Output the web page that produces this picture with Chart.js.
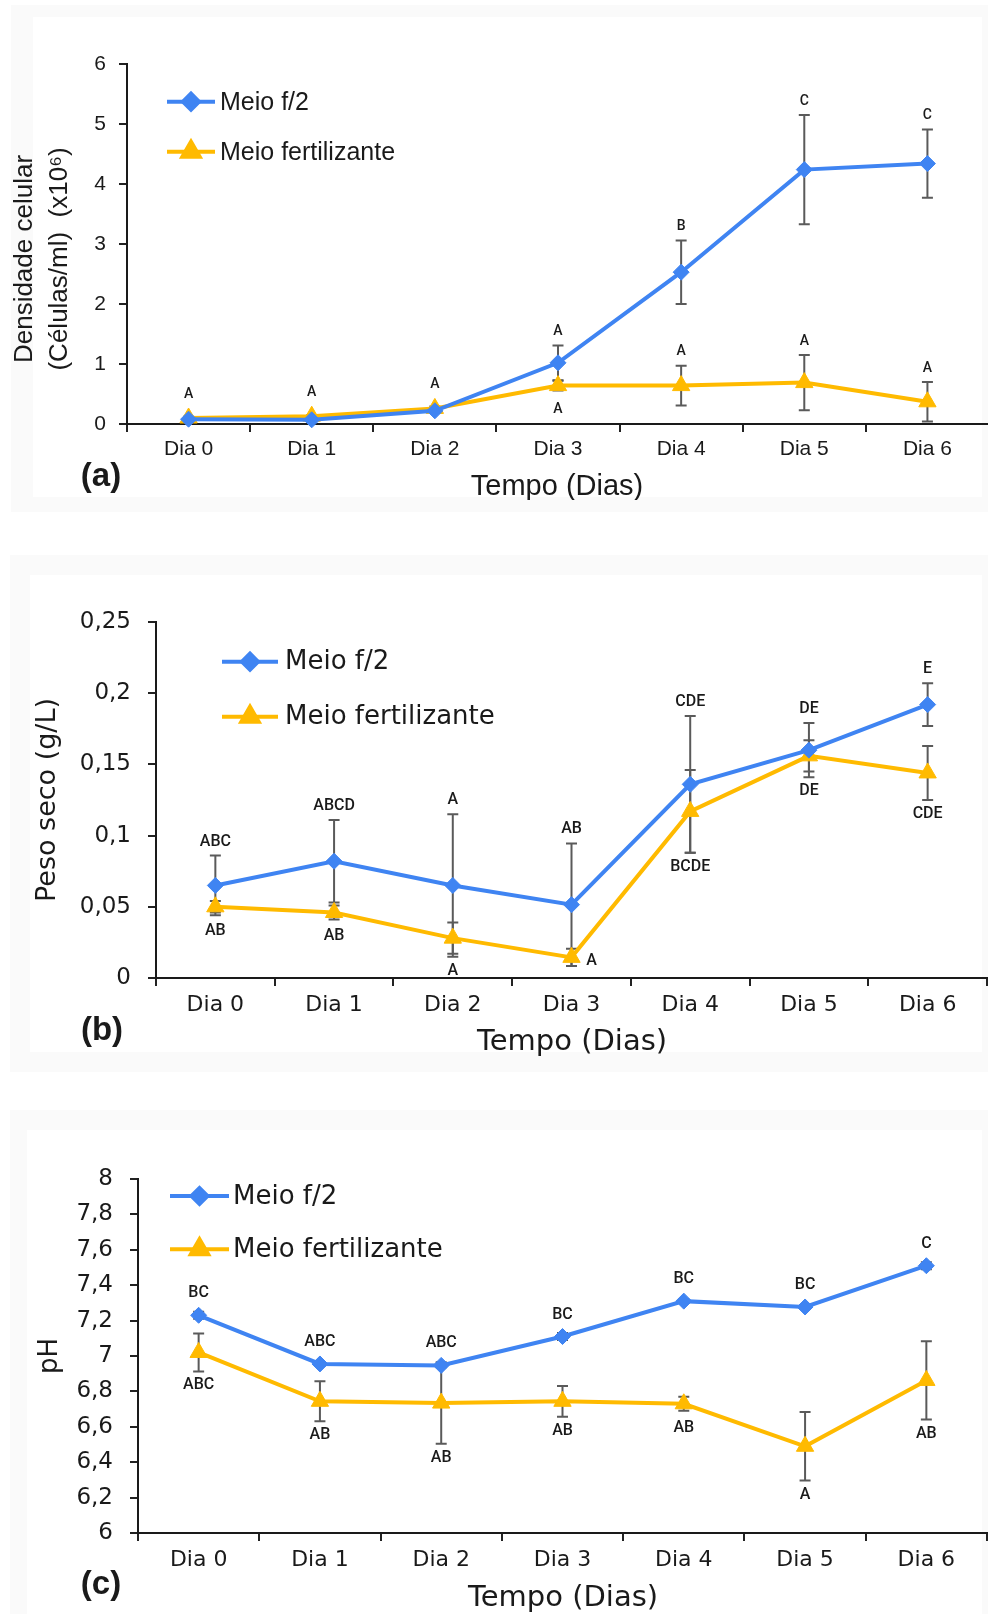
<!DOCTYPE html>
<html><head><meta charset="utf-8">
<script src="https://cdn.jsdelivr.net/npm/chart.js@4.4.1/dist/chart.umd.min.js"></script>
<style>
html,body{margin:0;padding:0;background:#fff;width:988px;height:1614px;overflow:hidden;position:relative}
.frame{position:absolute;background:#fafafa}
.inner{position:absolute;background:#fff}
canvas{position:absolute;left:0}
</style></head><body>
<div class="frame" style="left:11px;top:5px;width:990px;height:507px"></div>
<div class="inner" style="left:33px;top:17px;width:949px;height:480px"></div>
<div class="frame" style="left:10px;top:555px;width:990px;height:517px"></div>
<div class="inner" style="left:30px;top:575px;width:952px;height:477px"></div>
<div class="frame" style="left:10px;top:1110px;width:990px;height:520px"></div>
<div class="inner" style="left:27px;top:1130px;width:955px;height:500px"></div>
<canvas id="chartA" width="1000" height="500" style="top:0"></canvas>
<canvas id="chartB" width="1000" height="500" style="top:560px"></canvas>
<canvas id="chartC" width="1000" height="504" style="top:1110px"></canvas>
<script>
// ---------- shared categories / series names ----------
const days = ['Dia 0','Dia 1','Dia 2','Dia 3','Dia 4','Dia 5','Dia 6'];
const seriesNames = ['Meio f/2','Meio fertilizante'];

// ---------- (a) cell density (x10^6 cells/ml) ----------
const densF2      = [0.08, 0.07, 0.22, 1.02, 2.53, 4.24, 4.34];
const densF2Err   = [0.02, 0.02, 0.03, 0.29, 0.53, 0.91, 0.57];
const densFert    = [0.10, 0.13, 0.26, 0.64, 0.64, 0.69, 0.37];
const densFertErr = [0.02, 0.02, 0.03, 0.08, 0.33, 0.46, 0.33];
const densF2Letters   = ['', '', '', 'A', 'B', 'C', 'C'];
const densFertLetters = ['A','A','A','A','A','A','A'];
const densF2Side   = ['up','up','up','up','up','up','up'];
const densFertSide = ['up','up','up','down','up','up','up'];
const densTickVals   = [0,1,2,3,4,5,6];
const densTickLabels = ['0','1','2','3','4','5','6'];

// ---------- (b) dry weight (g/L) ----------
const dryF2      = [0.065, 0.082, 0.065, 0.0515, 0.136, 0.160, 0.192];
const dryF2Err   = [0.021, 0.029, 0.050, 0.043, 0.048, 0.019, 0.015];
const dryFert    = [0.050, 0.046, 0.028, 0.0145, 0.117, 0.156, 0.144];
const dryFertErr = [0.004, 0.005, 0.011, 0.006, 0.029, 0.011, 0.019];
const dryF2Letters   = ['ABC','ABCD','A','AB','CDE','DE','E'];
const dryFertLetters = ['AB','AB','A','A','BCDE','DE','CDE'];
const dryF2Side   = ['up','up','up','up','up','up','up'];
const dryFertSide = ['down','down','down','right','down','down','down'];
const dryTickVals   = [0,0.05,0.1,0.15,0.2,0.25];
const dryTickLabels = ['0','0,05','0,1','0,15','0,2','0,25'];

// ---------- (c) pH ----------
const phF2      = [7.23, 6.955, 6.947, 7.11, 7.31, 7.277, 7.51];
const phF2Err   = [0.02, 0.01, 0.01, 0.02, 0.01, 0.01, 0.02];
const phFert    = [7.02, 6.744, 6.734, 6.744, 6.73, 6.49, 6.862];
const phFertErr = [0.107, 0.113, 0.23, 0.087, 0.04, 0.194, 0.221];
const phF2Letters   = ['BC','ABC','ABC','BC','BC','BC','C'];
const phFertLetters = ['ABC','AB','AB','AB','AB','A','AB'];
const phF2Side   = ['up','up','up','up','up','up','up'];
const phFertSide = ['down','down','down','down','down','down','down'];
const phTickVals   = [6,6.2,6.4,6.6,6.8,7,7.2,7.4,7.6,7.8,8];
const phTickLabels = ['6','6,2','6,4','6,6','6,8','7','7,2','7,4','7,6','7,8','8'];

// ---------- styling ----------
const BLUE = '#3f84f2', GOLD = '#ffba00', ERR = '#5a5a5a', INK = '#1a1a1a';

const extras = {
  id: 'extras',
  beforeDatasetsDraw(chart) {
    const o = chart.options.plugins.extras, ctx = chart.ctx, ys = chart.scales.y;
    ctx.save(); ctx.strokeStyle = ERR; ctx.lineWidth = 2;
    chart.data.datasets.forEach((ds, i) => {
      const meta = chart.getDatasetMeta(i);
      ds.data.forEach((v, j) => {
        const e = o.errors[i][j]; if (!e) return;
        const x = meta.data[j].x, t = ys.getPixelForValue(v + e), b = ys.getPixelForValue(v - e);
        ctx.beginPath();
        ctx.moveTo(x, t); ctx.lineTo(x, b);
        ctx.moveTo(x - 5.5, t); ctx.lineTo(x + 5.5, t);
        ctx.moveTo(x - 5.5, b); ctx.lineTo(x + 5.5, b);
        ctx.stroke();
      });
    });
    ctx.restore();
  },
  afterDatasetsDraw(chart) {
    const o = chart.options.plugins.extras, ctx = chart.ctx, ys = chart.scales.y;
    const dss = chart.data.datasets;
    ctx.save(); ctx.fillStyle = INK; ctx.font = o.letterFont;
    ctx.textAlign = 'center'; ctx.textBaseline = 'middle';
    dss.forEach((ds, i) => {
      const meta = chart.getDatasetMeta(i), r = ds.pointRadius;
      ds.data.forEach((v, j) => {
        const txt = o.letters[i][j]; if (!txt) return;
        const x = meta.data[j].x, y = meta.data[j].y;
        const side = o.sides[i][j];
        if (side === 'up') {
          let a = y - r;
          dss.forEach((d2, k) => {
            if (d2.data[j] <= v || k === i) a = Math.min(a, ys.getPixelForValue(d2.data[j] + (o.errors[k][j] || 0)));
          });
          ctx.fillText(txt, x, a - o.gap);
        } else if (side === 'down') {
          let a = y + r;
          dss.forEach((d2, k) => {
            if (d2.data[j] >= v || k === i) a = Math.max(a, ys.getPixelForValue(d2.data[j] - (o.errors[k][j] || 0)));
          });
          ctx.fillText(txt, x, a + o.gap);
        } else {
          ctx.fillText(txt, x + 20, y + 4);
        }
      });
    });
    ctx.restore();
  },
  afterDraw(chart) {
    const o = chart.options.plugins.extras, ctx = chart.ctx, L = o.legend;
    ctx.save();
    chart.data.datasets.forEach((ds, i) => {
      const y = L.y + i * L.dy;
      ctx.strokeStyle = ds.borderColor; ctx.lineWidth = 4;
      ctx.beginPath(); ctx.moveTo(L.x, y); ctx.lineTo(L.x + L.len, y); ctx.stroke();
      ctx.fillStyle = ds.backgroundColor; ctx.strokeStyle = ds.borderColor;
      Chart.helpers.drawPoint(ctx, {pointStyle: ds.pointStyle, radius: ds.pointRadius, rotation: 0, borderWidth: 1},
        L.x + L.len / 2, y);
      ctx.fillStyle = INK; ctx.font = L.font; ctx.textAlign = 'left'; ctx.textBaseline = 'middle';
      ctx.fillText(ds.label, L.x + L.len + L.gap, y + 1);
    });
    o.titles.forEach(t => {
      ctx.save();
      ctx.fillStyle = INK; ctx.font = t.font; ctx.textAlign = 'center'; ctx.textBaseline = 'middle';
      ctx.translate(t.x, t.y);
      if (t.rot) ctx.rotate(-Math.PI / 2);
      ctx.fillText(t.text, 0, 0);
      ctx.restore();
    });
    ctx.restore();
  }
};

function makePanel(id, p) {
  const H = document.getElementById(id).height;
  return new Chart(document.getElementById(id), {
    type: 'line',
    data: {
      labels: days,
      datasets: [
        {label: seriesNames[0], data: p.f2, borderColor: BLUE, backgroundColor: BLUE,
         borderWidth: 4, pointStyle: 'rectRot', pointRadius: 8, pointBorderWidth: 1,
         pointBackgroundColor: BLUE, pointBorderColor: BLUE, tension: 0, clip: false},
        {label: seriesNames[1], data: p.fert, borderColor: GOLD, backgroundColor: GOLD,
         borderWidth: 4, pointStyle: 'triangle', pointRadius: 10, pointBorderWidth: 1,
         pointBackgroundColor: GOLD, pointBorderColor: GOLD, tension: 0, clip: false}
      ]
    },
    options: {
      responsive: false, animation: false, events: [],
      layout: {padding: {top: p.top, right: 1000 - p.right, left: 0, bottom: 0}},
      plugins: {
        legend: {display: false}, tooltip: {enabled: false},
        extras: {errors: [p.f2Err, p.fertErr], letters: [p.f2L, p.fertL], sides: [p.f2S, p.fertS],
                 letterFont: p.letterFont, gap: p.gap, legend: p.legend, titles: p.titles}
      },
      scales: {
        x: {
          type: 'category', offset: true,
          grid: {offset: true, drawOnChartArea: false, drawTicks: true, tickLength: 8, color: '#222', lineWidth: 2},
          border: {display: true, color: '#1a1a1a', width: 2},
          ticks: {color: INK, font: p.tickFont, padding: p.xPad, maxRotation: 0, autoSkip: false},
          afterFit(s) { s.height = H - p.bottom; }
        },
        y: {
          min: p.ticks[0], max: p.ticks[p.ticks.length - 1],
          grid: {drawOnChartArea: false, drawTicks: true, tickLength: 8, color: '#222', lineWidth: 2},
          border: {display: true, color: '#1a1a1a', width: 2},
          afterBuildTicks(s) { s.ticks = p.ticks.map(v => ({value: v})); },
          ticks: {color: INK, font: p.yTickFont || p.tickFont, padding: p.yPad,
                  callback: (v, i) => p.tickLabels[i]},
          afterFit(s) { s.width = p.left; }
        }
      }
    },
    plugins: [extras]
  });
}

const LIB = '"Liberation Sans", Arial, sans-serif';
const DJV = '"DejaVu Sans", sans-serif';

makePanel('chartA', {
  f2: densF2, f2Err: densF2Err, fert: densFert, fertErr: densFertErr,
  f2L: densF2Letters, fertL: densFertLetters, f2S: densF2Side, fertS: densFertSide,
  ticks: densTickVals, tickLabels: densTickLabels,
  top: 64, bottom: 424, left: 127, right: 992,
  tickFont: {family: LIB, size: 21}, xPad: 5, yPad: 13,
  letterFont: '500 14px Roboto, sans-serif', gap: 14,
  legend: {x: 167, y: 101.7, dy: 50, len: 48, gap: 5, font: '25px ' + LIB},
  titles: [
    {text: 'Densidade celular', x: 25, y: 259, rot: true, font: '26px ' + LIB},
    {text: '(Células/ml)  (x10⁶)', x: 60, y: 259, rot: true, font: '26px ' + LIB},
    {text: 'Tempo (Dias)', x: 557, y: 487, font: '29px ' + LIB},
    {text: '(a)', x: 101, y: 477, font: 'bold 33px ' + LIB}
  ]
});

makePanel('chartB', {
  f2: dryF2, f2Err: dryF2Err, fert: dryFert, fertErr: dryFertErr,
  f2L: dryF2Letters, fertL: dryFertLetters, f2S: dryF2Side, fertS: dryFertSide,
  ticks: dryTickVals, tickLabels: dryTickLabels,
  top: 62, bottom: 418, left: 156, right: 987,
  tickFont: {family: DJV, size: 22}, yTickFont: {family: DJV, size: 23}, xPad: 6, yPad: 17,
  letterFont: '500 16px Roboto, sans-serif', gap: 14,
  legend: {x: 222, y: 101.7, dy: 55, len: 56, gap: 7, font: '26px ' + DJV},
  titles: [
    {text: 'Peso seco (g/L)', x: 48, y: 240, rot: true, font: '27px ' + DJV},
    {text: 'Tempo (Dias)', x: 572, y: 482, font: '29px ' + DJV},
    {text: '(b)', x: 102, y: 471, font: 'bold 33px ' + LIB}
  ]
});

makePanel('chartC', {
  f2: phF2, f2Err: phF2Err, fert: phFert, fertErr: phFertErr,
  f2L: phF2Letters, fertL: phFertLetters, f2S: phF2Side, fertS: phFertSide,
  ticks: phTickVals, tickLabels: phTickLabels,
  top: 69, bottom: 423, left: 138, right: 987,
  tickFont: {family: DJV, size: 22}, yTickFont: {family: DJV, size: 23}, xPad: 6, yPad: 17,
  letterFont: '500 16px Roboto, sans-serif', gap: 14,
  legend: {x: 170, y: 86, dy: 53.3, len: 59, gap: 4, font: '26px ' + DJV},
  titles: [
    {text: 'pH', x: 50, y: 246, rot: true, font: '26px ' + DJV},
    {text: 'Tempo (Dias)', x: 563, y: 488, font: '29px ' + DJV},
    {text: '(c)', x: 101, y: 475, font: 'bold 33px ' + LIB}
  ]
});
</script>
</body></html>
